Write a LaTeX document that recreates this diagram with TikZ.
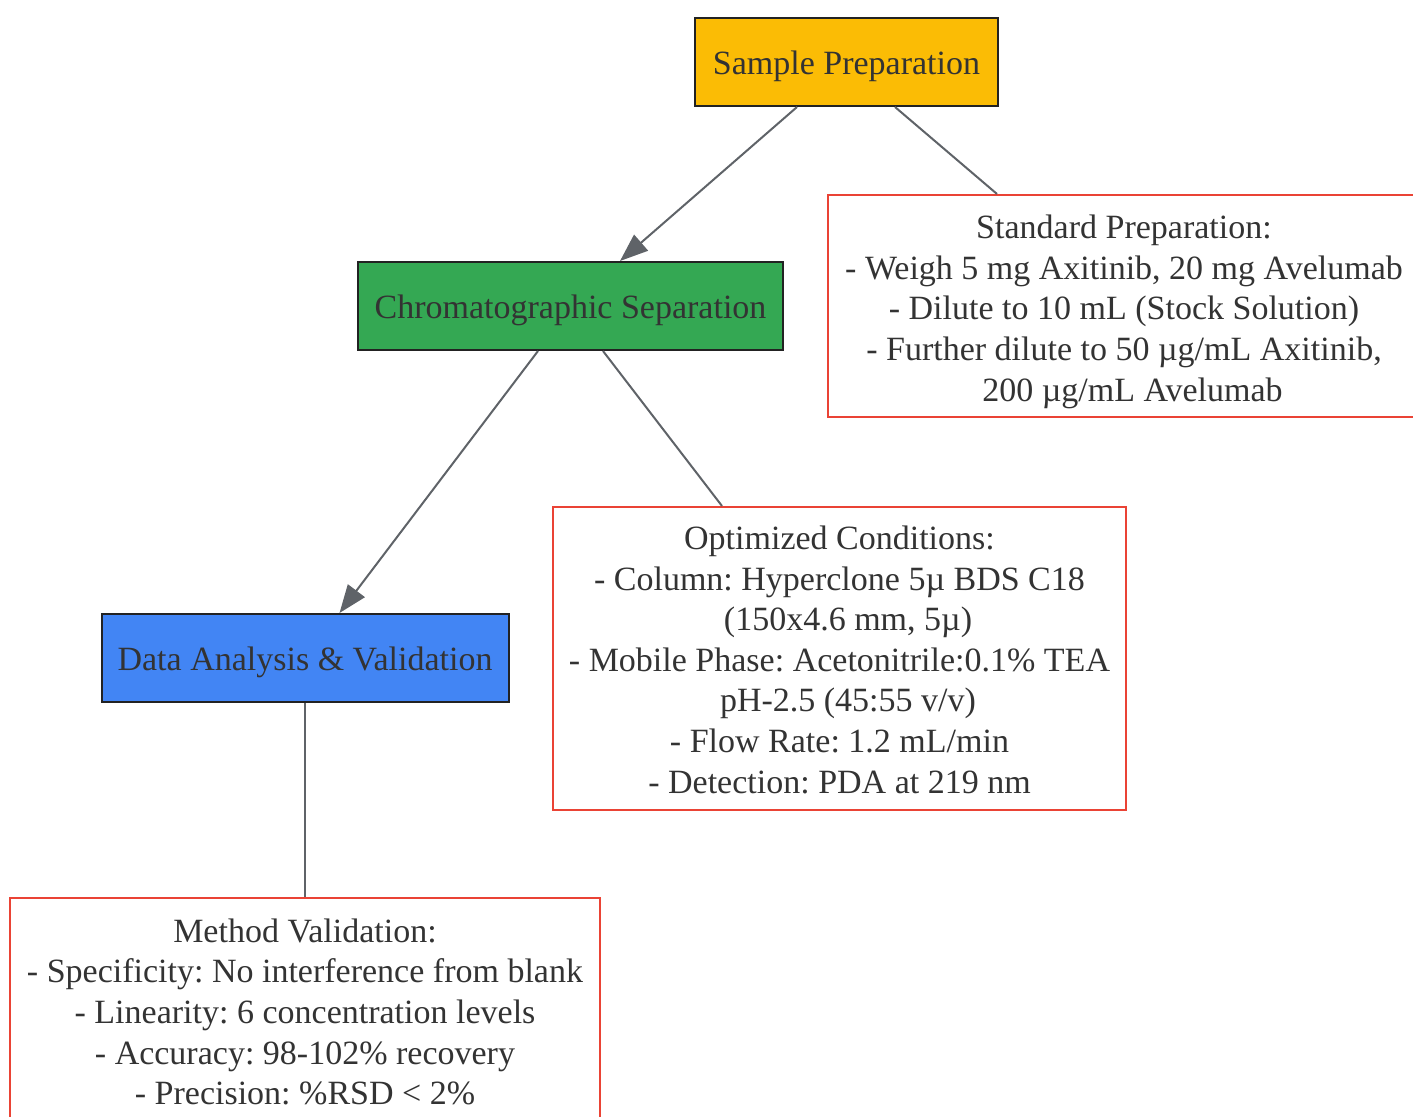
\documentclass[tikz,border=0pt]{standalone}
\usepackage{fontspec}
\setmainfont{Liberation Serif}
\frenchspacing
\usetikzlibrary{arrows.meta}
\definecolor{cyellow}{HTML}{FBBC05}
\definecolor{cgreen}{HTML}{34A853}
\definecolor{cblue}{HTML}{4285F4}
\definecolor{cred}{HTML}{EA4335}
\definecolor{cedge}{HTML}{5F6368}
\definecolor{ctext}{HTML}{333333}
\definecolor{cborder}{HTML}{222222}
\newcommand{\mystrut}[1]{\rule{0pt}{#1}}
\newcommand{\wrapind}{\hspace*{17pt}}
\begin{document}
\begin{tikzpicture}[x=1pt,y=-1pt,
  every node/.style={font=\fontsize{34}{40.6}\selectfont, text=ctext, inner sep=0pt, align=center},
  stepbox/.style={draw=cborder, line width=2pt, minimum height=88pt},
  notebox/.style={draw=cred, fill=white, line width=2pt},
  conn/.style={draw=cedge, line width=2pt},
  arr/.style={conn, -{Triangle[length=28pt,width=21pt]}}
]
\useasboundingbox (0,0) rectangle (1413,1116);
\node[stepbox, fill=cyellow, minimum width=303pt] (sp) at (846.5,62) {\mystrut{33pt}Sample Preparation};
\node[stepbox, fill=cgreen, minimum width=425pt] (ch) at (570.5,306) {\mystrut{33pt}Chromatographic Separation};
\node[stepbox, fill=cblue, minimum width=407pt] (da) at (305,658) {\mystrut{33pt}Data Analysis \& Validation};
\node[notebox, minimum width=592pt, minimum height=222pt] (std) at (1124,306)
  {\mystrut{35pt}Standard Preparation:\\- Weigh 5 mg Axitinib, 20 mg Avelumab\\- Dilute to 10 mL (Stock Solution)\\- Further dilute to 50 µg/mL Axitinib,\\\wrapind 200 µg/mL Avelumab};
\node[notebox, minimum width=573pt, minimum height=303pt] (opt) at (839.5,658.5)
  {\mystrut{26pt}Optimized Conditions:\\- Column: Hyperclone 5µ BDS C18\\\wrapind(150x4.6 mm, 5µ)\\- Mobile Phase: Acetonitrile:0.1\% TEA\\\wrapind pH-2.5 (45:55 v/v)\\- Flow Rate: 1.2 mL/min\\- Detection: PDA at 219 nm};
\node[notebox, minimum width=590pt, minimum height=228pt] (mv) at (305,1012)
  {Method Validation:\\- Specificity: No interference from blank\\- Linearity: 6 concentration levels\\- Accuracy: 98-102\% recovery\\- Precision: \%RSD < 2\%};
\draw[arr] ([xshift=103pt]sp.south west) -- ([xshift=263pt]ch.north west);
\draw[conn] ([xshift=201pt]sp.south west) -- ([xshift=170pt]std.north west);
\draw[arr] ([xshift=181pt]ch.south west) -- ([xshift=239pt]da.north west);
\draw[conn] ([xshift=246pt]ch.south west) -- ([xshift=170pt]opt.north west);
\draw[conn] (da.south) -- (mv.north);
\end{tikzpicture}
\end{document}
